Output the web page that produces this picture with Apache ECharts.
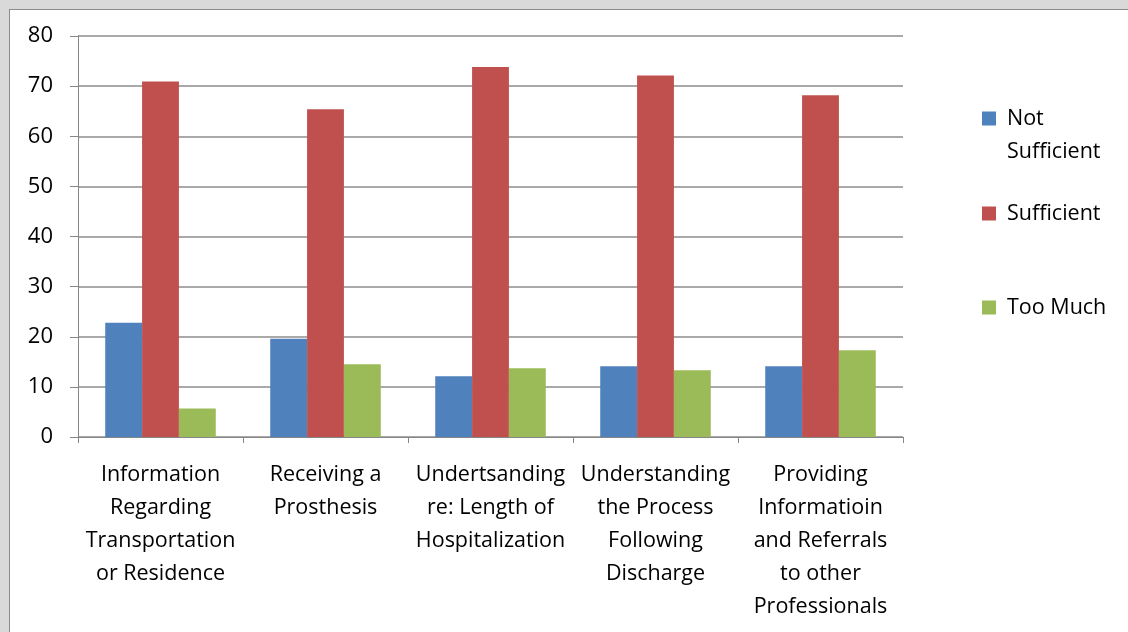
<!DOCTYPE html>
<html>
<head>
<meta charset="utf-8">
<script src="https://cdn.jsdelivr.net/npm/echarts@6/dist/echarts.min.js"></script>
<style>
html,body{margin:0;padding:0;width:1128px;height:632px;overflow:hidden;background:#d9d9d9;}
#frame{position:absolute;left:9px;top:9px;width:1130px;height:640px;background:#fff;border:1px solid #8c8c8c;}
#chart{position:absolute;left:0;top:0;width:1128px;height:632px;}
</style>
</head>
<body>
<div id="frame"></div>
<div id="chart"></div>
<script>
const categories = [
  "Information\nRegarding\nTransportation\nor Residence",
  "Receiving a\nProsthesis",
  "Undertsanding\nre: Length of\nHospitalization",
  "Understanding\nthe Process\nFollowing\nDischarge",
  "Providing\nInformatioin\nand Referrals\nto other\nProfessionals"
];
const seriesNames = ["Not Sufficient", "Sufficient", "Too Much"];
const notSufficient = [22.8, 19.6, 12.1, 14.1, 14.1];
const sufficient = [70.9, 65.4, 73.8, 72.1, 68.2];
const tooMuch = [5.7, 14.5, 13.7, 13.3, 17.3];
const yTicks = [0, 10, 20, 30, 40, 50, 60, 70, 80];

const colors = ["#4f81bd", "#c0504d", "#9bbb59"];
const FONT = "'Open Sans', 'Noto Sans', sans-serif";
const chart = echarts.init(document.getElementById('chart'), null, {renderer: 'canvas'});

function legendFor(i, top, label) {
  return {
    data: [seriesNames[i]],
    left: 977,
    top: top,
    itemWidth: 14,
    itemHeight: 14,
    itemGap: 0,
    selectedMode: false,
    icon: 'rect',
    formatter: function () { return label; },
    textStyle: {fontFamily: FONT, fontSize: 21.5, color: '#000', lineHeight: 33, padding: [0, 0, 0, 6]}
  };
}

chart.setOption({
  animation: false,
  backgroundColor: 'transparent',
  color: colors,
  grid: {left: 78, right: 225, top: 36, bottom: 195, containLabel: false},
  legend: [
    legendFor(0, 64, " \nNot\nSufficient"),
    legendFor(1, 192, "Sufficient"),
    legendFor(2, 286, "Too Much")
  ],
  xAxis: {
    type: 'category',
    data: categories,
    axisLine: {lineStyle: {color: '#868686', width: 1}},
    axisTick: {show: true, length: 6, lineStyle: {color: '#868686'}, alignWithLabel: false},
    axisLabel: {interval: 0, margin: 21, fontFamily: FONT, fontSize: 21.5, color: '#000', lineHeight: 33, align: 'center'}
  },
  yAxis: {
    type: 'value',
    min: 0, max: 80, interval: 10,
    axisLine: {show: true, lineStyle: {color: '#868686', width: 1}},
    axisTick: {show: true, length: 8, lineStyle: {color: '#868686'}},
    splitLine: {lineStyle: {color: '#8c8c8c', width: 1.5}},
    axisLabel: {margin: 25, fontFamily: FONT, fontSize: 22, color: '#000',
      formatter: function (v) { return yTicks.indexOf(v) >= 0 ? String(v) : ''; }}
  },
  series: [
    {name: seriesNames[0], type: 'bar', data: notSufficient, barGap: '0%', barCategoryGap: '33%'},
    {name: seriesNames[1], type: 'bar', data: sufficient, barGap: '0%', barCategoryGap: '33%'},
    {name: seriesNames[2], type: 'bar', data: tooMuch, barGap: '0%', barCategoryGap: '33%'}
  ]
});
</script>
</body>
</html>
